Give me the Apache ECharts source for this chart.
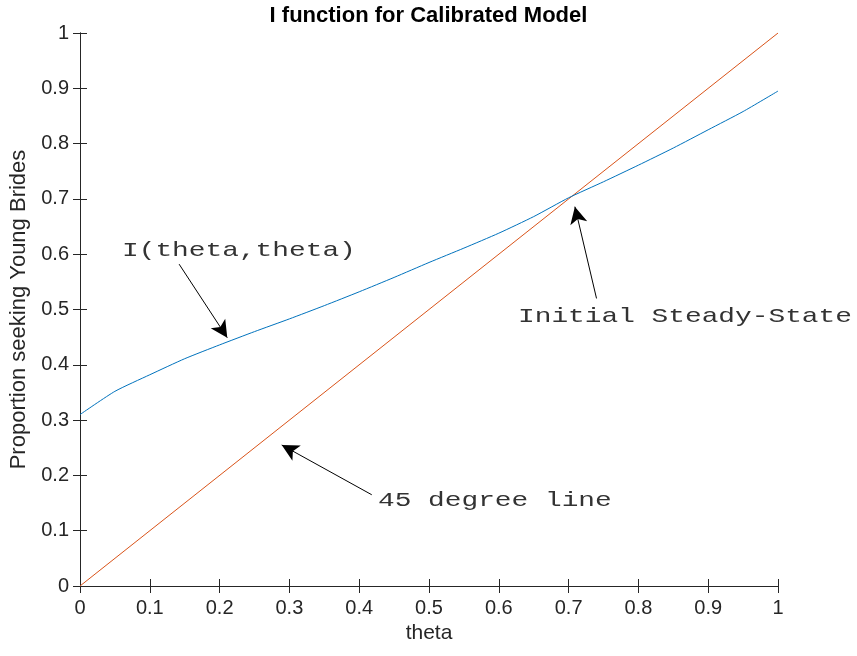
<!DOCTYPE html>
<html>
<head>
<meta charset="utf-8">
<script src="https://cdn.jsdelivr.net/npm/echarts@6/dist/echarts.min.js"></script>
<style>
  html, body { margin: 0; padding: 0; background: #fff; }
  #chart { width: 857px; height: 656px; }
</style>
</head>
<body>
<div id="chart"></div>
<script>
// theta 取样点和读出的 I(theta,theta) 数值
const thetaValues = [0, 0.05, 0.1, 0.15, 0.2, 0.25, 0.3, 0.35, 0.4, 0.45, 0.5,
                     0.55, 0.6, 0.65, 0.7, 0.75, 0.8, 0.85, 0.9, 0.95, 1];
const iValues = [0.31, 0.352, 0.382, 0.411, 0.436, 0.46, 0.483, 0.507, 0.532, 0.558, 0.585,
                 0.611, 0.638, 0.668, 0.702, 0.731, 0.761, 0.792, 0.825, 0.858, 0.895];
// 45 度线
const diagonalX = [0, 1];
const diagonalY = [0, 1];
// 注释：箭头起点 / 终点 (数据坐标)
const arrowFrom = [[0.142, 0.582], [0.740, 0.520], [0.418, 0.165]];
const arrowTo   = [[0.211, 0.449], [0.709, 0.686], [0.289, 0.255]];
// 注释文字及左侧中点位置
const noteTexts = ['I(theta,theta)', 'Initial Steady-State', '45 degree line'];
const notePos = [[0.0602, 0.606], [0.6275, 0.488], [0.4269, 0.1555]];

const axisColor = '#262626';

const chart = echarts.init(document.getElementById('chart'));

function hiddenAxis(extra) {
    return Object.assign({
        type: 'value', min: 0, max: 1, interval: 0.1,
        axisLine: { show: true, lineStyle: { color: axisColor, width: 1 } },
        axisTick: { show: true, inside: true, length: 7, lineStyle: { color: axisColor } },
        axisLabel: { show: false },
        splitLine: { show: false }
    }, extra);
}

const option = {
    animation: false,
    backgroundColor: '#fff',
    title: {
        text: 'I function for Calibrated Model',
        left: 'center',
        top: 0,
        textStyle: { fontFamily: 'Liberation Sans', fontSize: 22, fontWeight: 'bold', color: '#000' }
    },
    grid: { left: 80, right: 79, top: 33, bottom: 70, outerBoundsMode: 'none' },
    xAxis: [
        {
            type: 'value', min: 0, max: 1, interval: 0.1,
            name: 'theta', nameLocation: 'middle', nameGap: 36,
            nameTextStyle: { fontFamily: 'Liberation Sans', fontSize: 21, color: axisColor },
            axisLine: { show: true, onZero: false, lineStyle: { color: axisColor, width: 1 } },
            axisTick: { show: true, inside: true, length: 7, lineStyle: { color: axisColor } },
            axisLabel: { fontFamily: 'Liberation Sans', fontSize: 20, color: axisColor, margin: 12 },
            splitLine: { show: false }
        },
        hiddenAxis({ position: 'top' })
    ],
    yAxis: [
        {
            type: 'value', min: 0, max: 1, interval: 0.1,
            name: 'Proportion seeking Young Brides', nameLocation: 'middle', nameGap: 50,
            nameTextStyle: { fontFamily: 'Liberation Sans', fontSize: 22, color: axisColor },
            axisLine: { show: true, onZero: false, lineStyle: { color: axisColor, width: 1 } },
            axisTick: { show: true, inside: true, length: 7, lineStyle: { color: axisColor } },
            axisLabel: { fontFamily: 'Liberation Sans', fontSize: 20, color: axisColor, margin: 11 },
            splitLine: { show: false }
        },
        hiddenAxis({ position: 'right' })
    ],
    series: [
        {
            name: 'I(theta,theta)',
            type: 'line',
            data: thetaValues.map((t, i) => [t, iValues[i]]),
            smooth: 0.2,
            showSymbol: false,
            lineStyle: { color: '#0072BD', width: 1 },
            z: 3
        },
        {
            name: '45 degree line',
            type: 'line',
            data: diagonalX.map((t, i) => [t, diagonalY[i]]),
            showSymbol: false,
            lineStyle: { color: '#D95319', width: 1 },
            z: 2,
            markLine: {
                silent: true,
                animation: false,
                symbol: ['none', 'arrow'],
                symbolSize: [13, 17],
                label: { show: false },
                lineStyle: { color: '#000', width: 1, type: 'solid' },
                itemStyle: { color: '#000' },
                data: arrowFrom.map((p, i) => [{ coord: p }, { coord: arrowTo[i] }])
            }
        }
    ]
};

chart.setOption(option);

// 注释文字：等宽字体并横向拉宽，模拟原图的 Courier 字距
chart.setOption({
    graphic: noteTexts.map((txt, i) => {
        const px = chart.convertToPixel({ gridIndex: 0 }, notePos[i]);
        return {
            type: 'text',
            x: px[0],
            y: px[1],
            scaleX: 1.325,
            silent: true,
            style: {
                text: txt,
                fontFamily: 'Liberation Mono',
                fontSize: 21,
                fill: '#333',
                verticalAlign: 'middle'
            }
        };
    })
});
</script>
</body>
</html>
